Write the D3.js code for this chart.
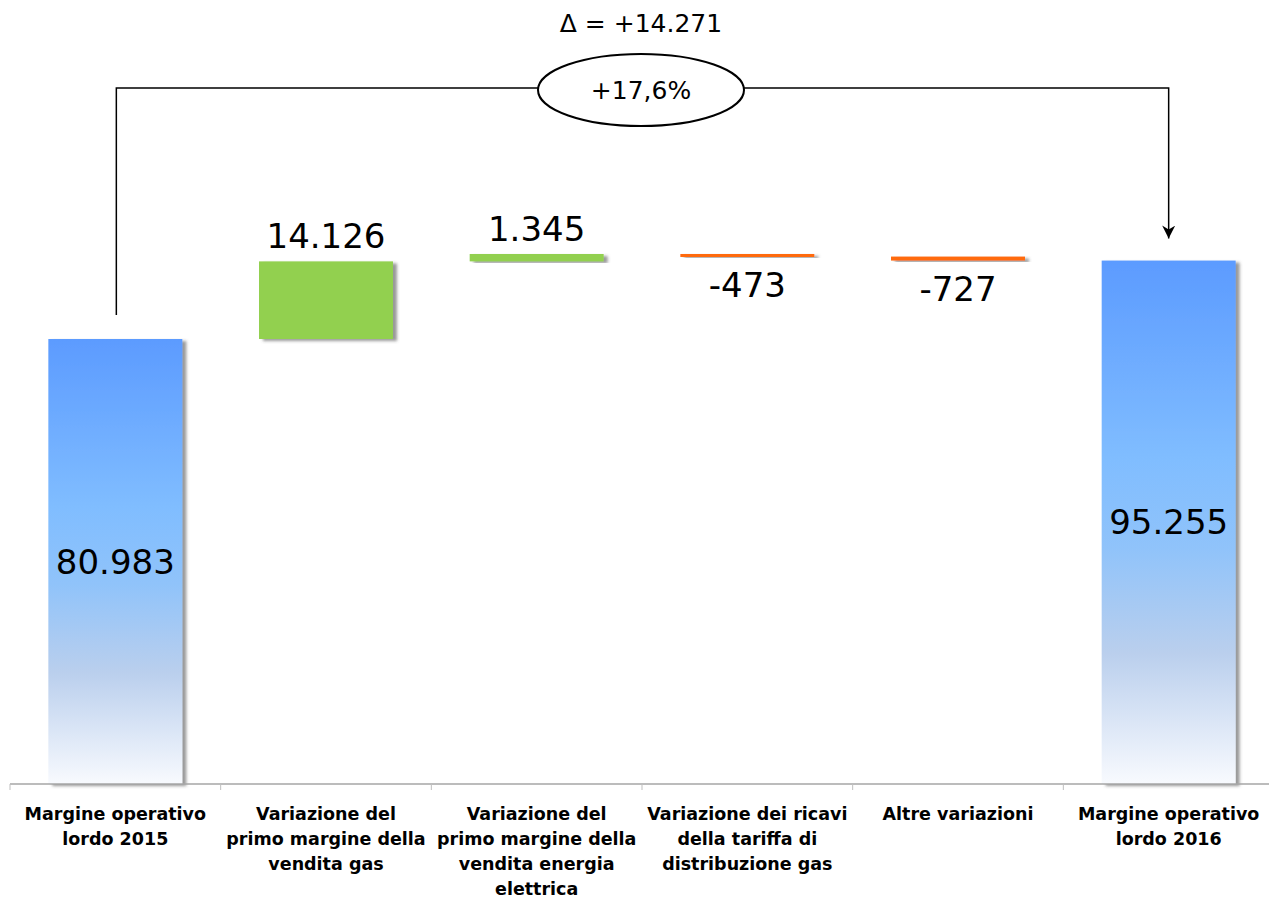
<!DOCTYPE html>
<html>
<head>
<meta charset="utf-8">
<script src="https://cdnjs.cloudflare.com/ajax/libs/d3/7.8.5/d3.min.js"></script>
<style>
  body { margin: 0; background: #fff; }
  svg { display: block; }
  text { font-family: "DejaVu Sans", Verdana, sans-serif; fill: #000; }
</style>
</head>
<body>
<svg></svg>
<script>
// categories (line breaks as in the original)
var categories = [
  "Margine operativo\nlordo 2015",
  "Variazione del\nprimo margine della\nvendita gas",
  "Variazione del\nprimo margine della\nvendita energia\nelettrica",
  "Variazione dei ricavi\ndella tariffa di\ndistribuzione gas",
  "Altre variazioni",
  "Margine operativo\nlordo 2016"
];
var values = [80983, 14126, 1345, -473, -727, 95255];
var kinds = ["total", "delta", "delta", "delta", "delta", "total"];
var valueLabels = ["80.983", "14.126", "1.345", "-473", "-727", "95.255"];
var deltaLabel = "\u0394 = +14.271";
var pctLabel = "+17,6%";

var width = 1269, height = 899;
var baseY = 784;

var svg = d3.select("svg")
  .attr("width", width)
  .attr("height", height);

var defs = svg.append("defs");

var grad = defs.append("linearGradient")
  .attr("id", "blueGrad")
  .attr("x1", 0).attr("y1", 0).attr("x2", 0).attr("y2", 1);
[[0, "#5c9bff"], [0.38, "#80bdff"], [0.55, "#90c3fa"], [0.75, "#bacfed"], [1, "#f8fafe"]]
  .forEach(s => grad.append("stop").attr("offset", s[0]).attr("stop-color", s[1]));

var shadow = defs.append("filter")
  .attr("id", "shadow")
  .attr("x", "-10%").attr("y", "-10%")
  .attr("width", "130%").attr("height", "130%");
shadow.append("feDropShadow")
  .attr("dx", 4).attr("dy", 2)
  .attr("stdDeviation", 1.5)
  .attr("flood-color", "#555")
  .attr("flood-opacity", 0.6);

defs.append("marker")
  .attr("id", "arrow")
  .attr("viewBox", "0 0 10 10")
  .attr("refX", 10).attr("refY", 5)
  .attr("markerWidth", 15).attr("markerHeight", 13)
  .attr("markerUnits", "userSpaceOnUse")
  .attr("orient", "auto")
  .append("path")
    .attr("d", "M0,0 L10,5 L0,10 L3,5 Z")
    .attr("fill", "#000");

// running waterfall positions
var bars = [];
var running = 0;
values.forEach((v, i) => {
  if (kinds[i] === "total") {
    bars.push({ i: i, y0: 0, y1: v, v: v, kind: "total" });
    running = v;
  } else {
    bars.push({ i: i, y0: running, y1: running + v, v: v, kind: v >= 0 ? "up" : "down" });
    running += v;
  }
});

var x = d3.scaleBand()
  .domain(d3.range(categories.length))
  .range([10, 1274])
  .padding(0);

var y = d3.scaleLinear()
  .domain([0, 80983])
  .range([baseY, 339]);

var bw = x.bandwidth() * 0.636;
var colors = { up: "#92d050", down: "#ff6a0e" };

var barG = svg.append("g");
barG.selectAll("rect")
  .data(bars)
  .enter()
  .append("rect")
    .attr("x", d => x(d.i) + (x.bandwidth() - bw) / 2)
    .attr("y", d => y(Math.max(d.y0, d.y1)))
    .attr("width", bw)
    .attr("height", d => Math.max(3, Math.abs(y(d.y0) - y(d.y1))))
    .attr("fill", d => d.kind === "total" ? "url(#blueGrad)" : colors[d.kind])
    .attr("filter", "url(#shadow)");

// axis line and ticks
var axisG = svg.append("g");
axisG.append("line")
  .attr("x1", 10).attr("x2", width)
  .attr("y1", baseY).attr("y2", baseY)
  .attr("stroke", "#a6a6a6").attr("stroke-width", 1.5);
axisG.selectAll("line.tick")
  .data(d3.range(categories.length))
  .enter()
  .append("line")
    .attr("class", "tick")
    .attr("x1", d => x(d))
    .attr("x2", d => x(d))
    .attr("y1", baseY).attr("y2", baseY + 6)
    .attr("stroke", "#bfbfbf");

// category labels
var catG = svg.append("g");
categories.forEach((c, i) => {
  var t = catG.append("text")
    .attr("text-anchor", "middle")
    .attr("font-weight", "bold")
    .attr("font-size", 17.5)
    .attr("x", x(i) + x.bandwidth() / 2)
    .attr("y", 820);
  c.split("\n").forEach((line, k) => {
    t.append("tspan")
      .attr("x", x(i) + x.bandwidth() / 2)
      .attr("dy", k === 0 ? 0 : 25)
      .text(line);
  });
});

// value labels
svg.append("g").selectAll("text")
  .data(bars)
  .enter()
  .append("text")
    .attr("text-anchor", "middle")
    .attr("font-size", 34)
    .attr("x", d => x(d.i) + x.bandwidth() / 2)
    .attr("y", d => {
      if (d.kind === "total") return (y(0) + y(d.v)) / 2 + 12;
      if (d.kind === "up") return y(d.y1) - 13;
      return y(d.y1) + 40;
    })
    .text(d => valueLabels[d.i]);

// delta connector
var leftX = x(0) + x.bandwidth() / 2 + 1;
var rightX = x(5) + x.bandwidth() / 2;
var midX = 641, lineY = 88;
var conn = svg.append("g").attr("fill", "none").attr("stroke", "#000").attr("stroke-width", 1.5);
conn.append("path")
  .attr("d", `M${leftX},${y(values[0]) - 24} V${lineY} H${midX - 103}`);
conn.append("path")
  .attr("d", `M${midX + 103},${lineY} H${rightX} V${y(values[5]) - 22}`)
  .attr("marker-end", "url(#arrow)");
conn.append("ellipse")
  .attr("cx", midX).attr("cy", 90)
  .attr("rx", 103).attr("ry", 36)
  .attr("stroke-width", 2)
  .attr("fill", "#fff");

svg.append("text")
  .attr("text-anchor", "middle")
  .attr("x", midX).attr("y", 99)
  .attr("font-size", 25)
  .text(pctLabel);

svg.append("text")
  .attr("text-anchor", "middle")
  .attr("x", midX).attr("y", 32)
  .attr("font-size", 25)
  .text(deltaLabel);
</script>
</body>
</html>
